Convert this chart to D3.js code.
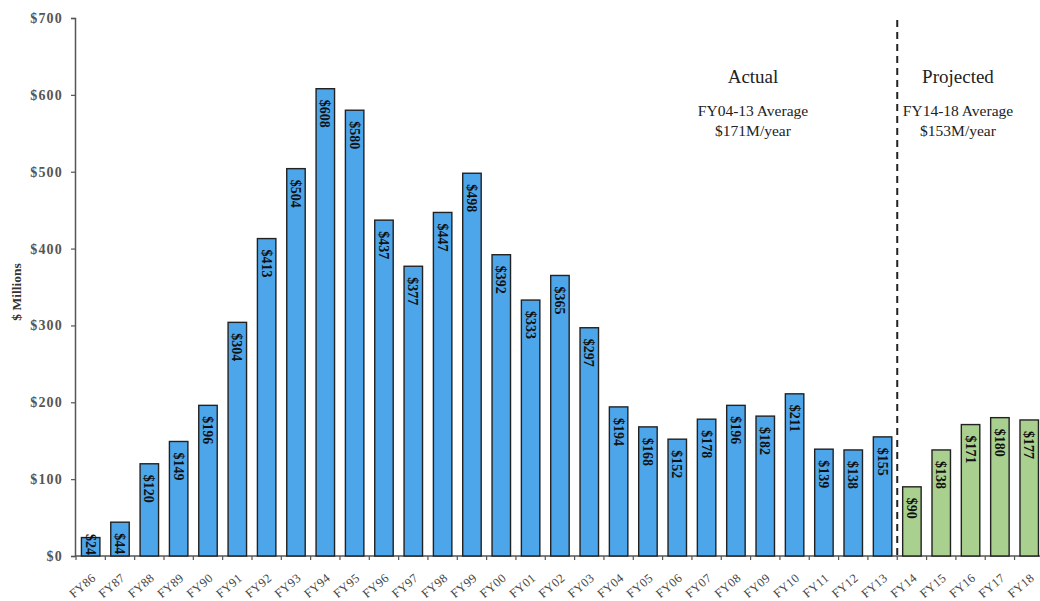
<!DOCTYPE html>
<html>
<head>
<meta charset="utf-8">
<script src="https://cdn.jsdelivr.net/npm/d3@7"></script>
<style>
  html, body { margin: 0; padding: 0; background: #fff; }
  svg { display: block; }
  text { font-family: "Liberation Serif", "Times New Roman", serif; }
</style>
</head>
<body>
<svg id="chart" width="1040" height="601"></svg>
<script>
// Fiscal years and funding ($ millions)
const years = ["FY86","FY87","FY88","FY89","FY90","FY91","FY92","FY93","FY94","FY95",
  "FY96","FY97","FY98","FY99","FY00","FY01","FY02","FY03","FY04","FY05","FY06",
  "FY07","FY08","FY09","FY10","FY11","FY12","FY13","FY14","FY15","FY16","FY17","FY18"];
const actualValues = [24,44,120,149,196,304,413,504,608,580,437,377,447,498,392,333,365,
  297,194,168,152,178,196,182,211,139,138,155];
const projectedValues = [90,138,171,180,177];
const yTicks = [0,100,200,300,400,500,600,700];

const values = actualValues.concat(projectedValues);
const data = years.map((y, i) => ({ year: y, value: values[i], projected: i >= actualValues.length }));

const svg = d3.select("#chart");
const x = d3.scaleBand().domain(years).range([76, 76 + 33 * 29.33]).paddingInner(0.37).paddingOuter(0.185);
const y = d3.scaleLinear().domain([0, 700]).range([556, 18]);

// Y axis
const yAxis = svg.append("g").attr("transform", "translate(75,0)")
  .call(d3.axisLeft(y).tickValues(yTicks).tickSize(4).tickFormat(d => "$" + d));
yAxis.select(".domain").attr("stroke", "#555").attr("stroke-width", 1.5);
yAxis.selectAll(".tick line").attr("stroke", "#555").attr("stroke-width", 1.2);
yAxis.selectAll(".tick text").attr("x", -12).attr("fill", "#555")
  .style("font-size", "14px").style("font-weight", "bold").style("letter-spacing", "1.2px");

svg.append("text").attr("transform", "translate(21,292) rotate(-90)")
  .attr("text-anchor", "middle").attr("fill", "#333")
  .style("font-size", "13.5px").style("font-weight", "bold").text("$ Millions");

// X axis with ticks between categories
const xg = svg.append("g");
xg.append("line").attr("x1", 75).attr("x2", 1040).attr("y1", 556).attr("y2", 556)
  .attr("stroke", "#555").attr("stroke-width", 1.5);
const step = x.step();
const boundaries = d3.range(years.length + 1).map(i => x.range()[0] + i * step);
xg.selectAll("line.tk").data(boundaries).join("line").attr("class", "tk")
  .attr("x1", d => d).attr("x2", d => d).attr("y1", 556).attr("y2", 560)
  .attr("stroke", "#555").attr("stroke-width", 1.2);
xg.selectAll("text").data(years).join("text")
  .attr("transform", d => `translate(${x(d) + x.bandwidth() / 2 + 3},${576}) rotate(-40)`)
  .attr("text-anchor", "end").attr("dy", "0.35em").attr("fill", "#444")
  .style("font-size", "12.5px").style("letter-spacing", "0.3px").text(d => d);

// Bars
svg.append("g").selectAll("rect").data(data).join("rect")
  .attr("x", d => x(d.year)).attr("width", x.bandwidth())
  .attr("y", d => y(d.value)).attr("height", d => y(0) - y(d.value))
  .attr("fill", d => d.projected ? "#a9d08e" : "#4da5ea")
  .attr("stroke", "#222").attr("stroke-width", 1.4);

// Value labels, reading top-to-bottom inside each bar
const lbl = svg.append("g").selectAll("text").data(data).join("text")
  .attr("text-anchor", "start").attr("dy", "0.35em").attr("fill", "#111")
  .style("font-size", "14px").style("font-weight", "bold")
  .text(d => "$" + d.value);
lbl.each(function(d) {
  const len = this.getComputedTextLength();
  const top = Math.min(y(d.value) + 11, y(0) - len - 1);
  d3.select(this).attr("transform", `translate(${x(d.year) + x.bandwidth() / 2},${top}) rotate(90)`);
});

// Divider between actual and projected years
const divX = x(years[actualValues.length]) - (step - x.bandwidth()) / 2;
svg.append("line").attr("x1", divX).attr("x2", divX).attr("y1", 20).attr("y2", 556)
  .attr("stroke", "#222").attr("stroke-width", 2).attr("stroke-dasharray", "7,5");

// Annotations
const notes = [
  { x: 753, lines: ["Actual", "FY04-13 Average", "$171M/year"] },
  { x: 958, lines: ["Projected", "FY14-18 Average", "$153M/year"] }
];
notes.forEach(n => {
  svg.append("text").attr("x", n.x).attr("y", 83).attr("text-anchor", "middle")
    .attr("fill", "#222").style("font-size", "19px").text(n.lines[0]);
  svg.append("text").attr("x", n.x).attr("y", 116).attr("text-anchor", "middle")
    .attr("fill", "#222").style("font-size", "15.5px").text(n.lines[1]);
  svg.append("text").attr("x", n.x).attr("y", 136).attr("text-anchor", "middle")
    .attr("fill", "#222").style("font-size", "15.5px").text(n.lines[2]);
});
</script>
</body>
</html>
